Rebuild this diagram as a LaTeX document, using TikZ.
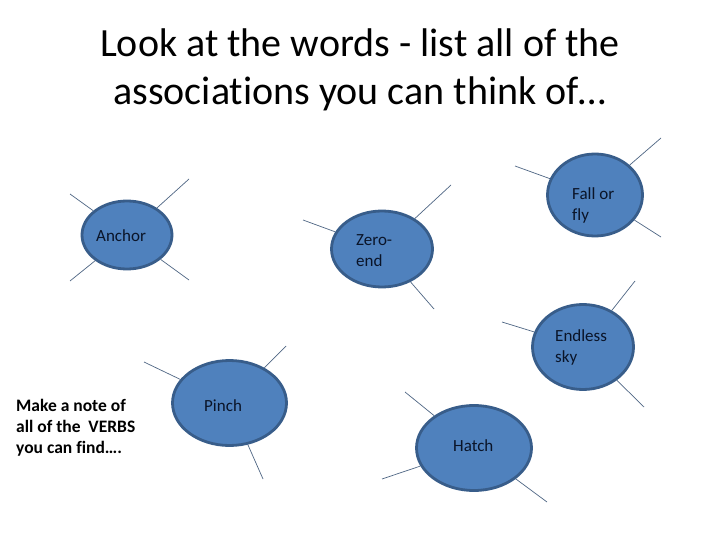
\documentclass[tikz,border=0pt]{standalone}
\usepackage{fontspec}
\setmainfont[Ligatures={NoCommon}]{Carlito}
\usetikzlibrary{shapes.geometric}
\definecolor{bubfill}{HTML}{4F81BD}
\definecolor{bubdraw}{HTML}{385D8A}
\definecolor{spoke}{HTML}{4F6684}
\definecolor{lbl}{HTML}{0A1428}
\begin{document}
\begin{tikzpicture}[x=1pt,y=-1pt,
  bubble/.style={ellipse, fill=bubfill, draw=bubdraw, line width=2.8pt, inner sep=0pt},
  spokeline/.style={draw=spoke, line width=0.7pt},
  lab/.style={anchor=west, inner sep=0pt, align=left, text=lbl, font=\fontsize{17}{21}\selectfont}]
\useasboundingbox[fill=white] (0,0) rectangle (720,540);
% title
\node[align=center, font=\fontsize{40}{48}\selectfont, text=black] (title) at (360,70)
  {Look at the words - list all of the\\associations you can think of…};
% bubbles
\node[bubble, minimum width=90pt, minimum height=68pt] (anchor) at (127,235) {};
\node[bubble, minimum width=101pt, minimum height=76pt] (zero) at (382,249) {};
\node[bubble, minimum width=95pt, minimum height=82pt] (fall) at (595,195) {};
\node[bubble, minimum width=101pt, minimum height=85pt] (endless) at (583,347) {};
\node[bubble, minimum width=115pt, minimum height=85pt] (hatch) at (474,448) {};
\node[bubble, minimum width=114pt, minimum height=85pt] (pinch) at (229.5,403) {};
% labels
\node[lab] (tanchor) at (96,236) {Anchor};
\node[lab] (tzero) at (356,251) {Zero-\\end};
\node[lab] (tfall) at (572,205) {Fall or\\fly};
\node[lab] (tendless) at (555,347) {Endless\\sky};
\node[lab] (tpinch) at (204,406) {Pinch};
\node[lab] (thatch) at (453,446) {Hatch};
\node[lab, text=black, font=\bfseries\fontsize{17.5}{21}\selectfont] (note) at (16,428)
  {Make a note of\\all of the \ VERBS\\you can find….};
% spoke ends
\coordinate (a1) at (70,194); \coordinate (a2) at (189,179);
\coordinate (a3) at (70,281); \coordinate (a4) at (189,280);
\coordinate (z1) at (303,220); \coordinate (z2) at (451,185); \coordinate (z3) at (434,309);
\coordinate (f1) at (515,166); \coordinate (f2) at (661,138); \coordinate (f3) at (661,237);
\coordinate (e1) at (502,322); \coordinate (e2) at (635,281); \coordinate (e3) at (644,407);
\coordinate (h1) at (405,392); \coordinate (h2) at (382,479); \coordinate (h3) at (547,502);
\coordinate (p1) at (144,362); \coordinate (p2) at (286,346); \coordinate (p3) at (263,479);
\foreach \n/\c in {anchor/a1,anchor/a2,anchor/a3,anchor/a4,zero/z1,zero/z2,zero/z3,
  fall/f1,fall/f2,fall/f3,endless/e1,endless/e2,endless/e3,hatch/h1,hatch/h2,hatch/h3,
  pinch/p1,pinch/p2,pinch/p3}
  \draw[spokeline] (\n) -- (\c);
\end{tikzpicture}
\end{document}
